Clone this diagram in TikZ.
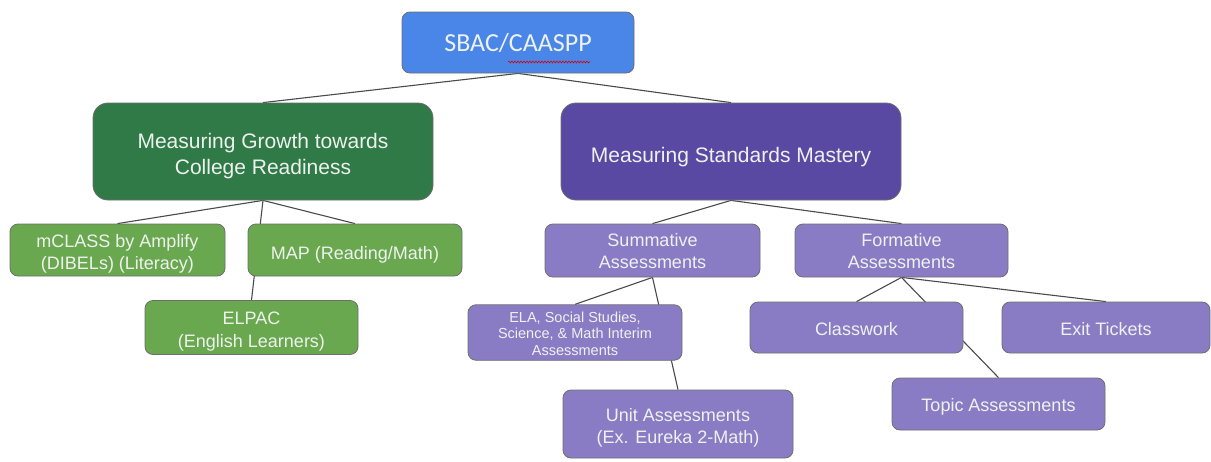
\documentclass[tikz,border=0pt]{standalone}
\usepackage{fontspec}
\setmainfont{Liberation Sans}
\newfontfamily\calib{Carlito}
\usetikzlibrary{backgrounds,decorations.pathmorphing}
\definecolor{sbacblue}{HTML}{4A86E8}
\definecolor{dgreen}{HTML}{2F7A46}
\definecolor{lgreen}{HTML}{6AA84F}
\definecolor{dpurple}{HTML}{5A49A3}
\definecolor{lpurple}{HTML}{8A7CC4}
\definecolor{edgegray}{HTML}{4A4A4A}
\definecolor{txt}{HTML}{EEF2EE}
% #1 = downward shift of the text (pt), #2 = lines
\newcommand\dtxt[2]{\raisebox{0pt}[\dimexpr\height+2\dimexpr#1pt\relax\relax][\depth]{\begin{tabular}{@{}c@{}}#2\end{tabular}}}
\tikzset{
  box/.style={draw=edgegray!80, line width=0.8pt, rectangle, rounded corners=8pt,
    align=center, text=txt, inner sep=0pt},
  bigbox/.style={box, rounded corners=15pt, minimum width=340pt, minimum height=97pt,
    font=\fontsize{21}{26}\selectfont},
  smallbox/.style={box, minimum width=214pt, minimum height=52pt,
    font=\fontsize{18}{21.5}\selectfont},
  link/.style={draw=edgegray, line width=1.1pt},
}
\begin{document}
\begin{tikzpicture}[x=1pt,y=-1pt]
\useasboundingbox (0,0) rectangle (1211,461);
\node[box, fill=sbacblue, minimum width=232pt, minimum height=61pt, font=\calib\fontsize{26}{30}\selectfont] (sbac) at (518,42.5) {\dtxt{3}{SBAC/CAASPP}};
\draw[red!85!black, line width=0.6pt, decorate, decoration={snake, amplitude=0.9pt, segment length=3pt}] (508,62) -- (590,62);
\node[bigbox, fill=dgreen] (grow) at (263,151.5) {\dtxt{5}{Measuring Growth towards\\College Readiness}};
\node[bigbox, fill=dpurple] (mast) at (731,151.5) {\dtxt{6}{Measuring Standards Mastery}};
\node[smallbox, fill=lgreen, minimum width=215pt] (mclass) at (117.5,250) {\dtxt{4}{mCLASS by Amplify\\(DIBELs) (Literacy)}};
\node[smallbox, fill=lgreen] (map) at (355,250) {\dtxt{5}{MAP (Reading/Math)}};
\node[smallbox, fill=lgreen, minimum width=213pt, minimum height=51pt, font=\fontsize{18}{23}\selectfont] (elpac) at (251.5,327.5) {\dtxt{4}{ELPAC\\(English Learners)}};
\node[smallbox, fill=lpurple, minimum width=215pt, minimum height=53pt] (summ) at (652.5,250.5) {\dtxt{2.5}{Summative\\Assessments}};
\node[smallbox, fill=lpurple, minimum width=213pt, minimum height=53pt] (form) at (901.5,250.5) {\dtxt{2.5}{Formative\\Assessments}};
\node[smallbox, fill=lpurple, minimum height=51pt, font=\fontsize{14.5}{16.5}\selectfont] (ela) at (575,332.5) {\dtxt{3}{ELA, Social Studies,\\Science, \& Math Interim\\Assessments}};
\node[smallbox, fill=lpurple, minimum width=230pt, minimum height=68pt, font=\fontsize{18}{22}\selectfont] (unit) at (678,424) {\dtxt{4}{Unit Assessments\\(Ex. Eureka 2-Math)}};
\node[smallbox, fill=lpurple, minimum width=213pt, minimum height=51pt] (classw) at (856.5,327.5) {\dtxt{4}{Classwork}};
\node[smallbox, fill=lpurple, minimum width=208pt, minimum height=51pt] (exit) at (1106,327.5) {\dtxt{4}{Exit Tickets}};
\node[smallbox, fill=lpurple, minimum width=213pt, minimum height=52pt] (topic) at (998.5,404) {\dtxt{3}{Topic Assessments}};
\begin{scope}[on background layer]
\draw[link] (sbac.south) -- (grow.north);
\draw[link] (sbac.south) -- (mast.north);
\draw[link] (grow.south) -- (mclass.north);
\draw[link] (grow.south) -- (map.north);
\draw[link] (grow.south) -- (elpac.north);
\draw[link] (mast.south) -- (summ.north);
\draw[link] (mast.south) -- (form.north);
\draw[link] (summ.south) -- (ela.north);
\draw[link] (summ.south) -- (unit.north);
\draw[link] (form.south) -- (classw.north);
\draw[link] (form.south) -- (topic.north);
\draw[link] (form.south) -- (exit.north);
\end{scope}
\end{tikzpicture}
\end{document}
